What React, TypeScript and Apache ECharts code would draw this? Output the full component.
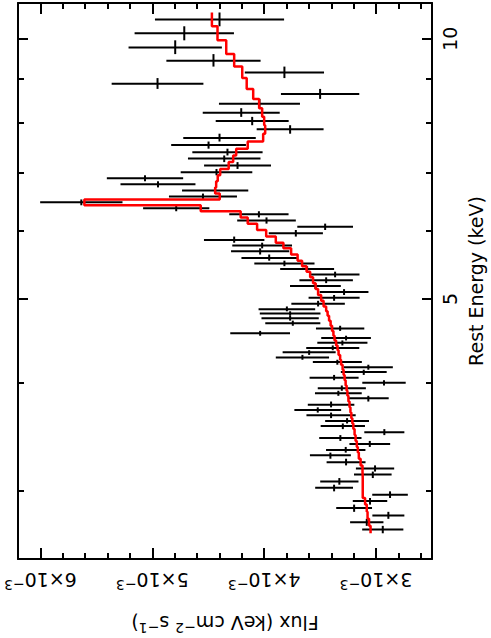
import React, { useEffect, useRef } from 'react';
import * as echarts from 'echarts';

// Rest-frame energy of each spectral bin centre (keV), high to low
const energyKeV = [
  10.53, 10.15, 9.771, 9.431, 9.142, 8.871, 8.629, 8.411, 8.212, 8.031,
  7.855, 7.676, 7.534, 7.389, 7.266, 7.132, 7.006, 6.895, 6.786, 6.673,
  6.567, 6.468, 6.366, 6.265, 6.161, 6.06, 5.956, 5.851, 5.764, 5.678,
  5.577, 5.495, 5.416, 5.336, 5.256, 5.173, 5.091, 5.014, 4.935, 4.865,
  4.81, 4.75, 4.687, 4.622, 4.561, 4.504, 4.448, 4.386, 4.336, 4.278,
  4.225, 4.166, 4.114, 4.052, 3.999, 3.94, 3.888, 3.836, 3.771, 3.719,
  3.667, 3.611, 3.564, 3.504, 3.452, 3.397, 3.343, 3.296, 3.236, 3.181,
  3.131, 3.073, 3.022, 2.966, 2.917, 2.863, 2.807, 2.758, 2.704,
];

// Observed flux (units of 1e-3 keV cm^-2 s^-1)
const fluxE3 = [
  4.399, 4.714, 4.795, 4.453, 3.819, 4.953, 3.5, 4.042, 4.205, 4.107,
  3.768, 4.399, 4.497, 4.328, 4.357, 4.238, 4.426, 5.065, 4.949, 4.438,
  4.547, 5.634, 4.786, 4.047, 3.979, 3.455, 3.717, 4.268, 4.018, 4.036,
  3.955, 3.819, 3.616, 3.366, 3.446, 3.542, 3.286, 3.375, 3.518, 3.797,
  3.768, 3.768, 3.744, 3.321, 4.036, 3.268, 3.301, 3.387, 3.598, 3.658,
  3.346, 3.069, 3.11, 3.375, 2.929, 3.306, 3.337, 3.069, 3.402, 3.521,
  3.402, 3.259, 3.297, 2.926, 3.319, 3.056, 3.271, 3.408, 3.268, 3.009,
  3.029, 3.328, 3.375, 2.875, 3.054, 3.196, 2.89, 3.083, 2.94,
];

// 1-sigma flux error (same units)
const fluxErrE3 = [
  0.577, 0.444, 0.417, 0.421, 0.354, 0.41, 0.35, 0.362, 0.344, 0.326,
  0.299, 0.324, 0.334, 0.314, 0.324, 0.299, 0.32, 0.341, 0.335, 0.296,
  0.304, 0.368, 0.296, 0.265, 0.262, 0.249, 0.242, 0.27, 0.267, 0.26,
  0.248, 0.269, 0.241, 0.218, 0.239, 0.227, 0.218, 0.228, 0.239, 0.253,
  0.271, 0.256, 0.246, 0.216, 0.267, 0.222, 0.224, 0.237, 0.237, 0.238,
  0.219, 0.219, 0.205, 0.219, 0.194, 0.215, 0.209, 0.182, 0.208, 0.209,
  0.22, 0.196, 0.198, 0.179, 0.189, 0.182, 0.176, 0.183, 0.174, 0.171,
  0.168, 0.171, 0.169, 0.159, 0.154, 0.16, 0.143, 0.149, 0.184,
];

// Best-fit model flux per bin (same units)
const modelE3 = [
  4.467, 4.417, 4.339, 4.268, 4.196, 4.156, 4.098, 4.045, 4.018, 4.0,
  3.991, 4.009, 4.147, 4.25, 4.277, 4.317, 4.393, 4.415, 4.429, 4.438,
  4.397, 5.607, 4.567, 4.21, 4.147, 4.063, 3.982, 3.896, 3.828, 3.759,
  3.701, 3.661, 3.621, 3.589, 3.563, 3.54, 3.518, 3.491, 3.469, 3.446,
  3.433, 3.42, 3.406, 3.393, 3.381, 3.371, 3.357, 3.344, 3.335, 3.321,
  3.313, 3.299, 3.29, 3.281, 3.272, 3.263, 3.256, 3.247, 3.237, 3.229,
  3.221, 3.212, 3.203, 3.192, 3.183, 3.172, 3.163, 3.154, 3.138, 3.121,
  3.119, 3.119, 3.119, 3.119, 3.098, 3.083, 3.076, 3.063, 3.049,
];

const fluxMajorTicks = [3, 4, 5, 6];
const fluxMinorTicks = [2.6, 2.8, 3.2, 3.4, 3.6, 3.8, 4.2, 4.4, 4.6, 4.8, 5.2, 5.4, 5.6, 5.8];
const energyMajorTicks = [5, 10];
const energyMinorTicks = [3, 4, 6, 7, 8, 9];

const FONT = 'DejaVu Sans';

function binEdges(c: number[]): number[] {
  const n = c.length;
  const e: number[] = [c[0] * Math.sqrt(c[0] / c[1])];
  for (let i = 0; i < n - 1; i++) e.push(Math.sqrt(c[i] * c[i + 1]));
  e.push(c[n - 1] * Math.sqrt(c[n - 1] / c[n - 2]));
  return e;
}

export default function App() {
  const ref = useRef<HTMLDivElement>(null);
  useEffect(() => {
    if (!ref.current) return;
    const chart = echarts.init(ref.current, null, { renderer: 'svg' });
    const edges = binEdges(energyKeV);
    const errData = energyKeV.map((e, i) => [fluxE3[i], e, fluxErrE3[i], edges[i + 1], edges[i]]);
    const modelLine: number[][] = [];
    modelE3.forEach((m, i) => {
      modelLine.push([m, edges[i]]);
      modelLine.push([m, edges[i + 1]]);
    });

    const lineCol = '#000';
    const rich = {
      m: { fontSize: 19, fontFamily: FONT, color: '#000', lineHeight: 24 },
      s: { fontSize: 14, fontFamily: FONT, color: '#000', lineHeight: 15, verticalAlign: 'top' },
    };
    const xBase: any = {
      type: 'value', min: 2.5, max: 6.2, inverse: true, splitLine: { show: false },
    };
    const yBase: any = {
      type: 'log', logBase: 10, min: 2.5, max: 11, splitLine: { show: false },
    };
    const tick = (vals: number[], len: number) => ({
      show: true, inside: true, length: len, customValues: vals,
      lineStyle: { color: lineCol, width: 2 },
    });
    const axLine = (show: boolean) => ({ show, onZero: false, lineStyle: { color: lineCol, width: 2 } });

    chart.setOption({
      animation: false,
      backgroundColor: '#fff',
      grid: { left: 18, right: 59, top: 3, bottom: 79, outerBoundsMode: 'none', containLabel: false },
      xAxis: [
        {
          ...xBase, position: 'bottom', axisLine: axLine(true), axisTick: tick(fluxMajorTicks, 11),
          axisLabel: {
            show: true, customValues: fluxMajorTicks, rotate: 180, margin: 9,
            formatter: (v: number) => `{m|${Math.round(v)}×10}{s|−3}`, rich,
          },
          name: '{m|Flux (keV cm}{s|−2}{m| s}{s|−1}{m|)}',
          nameLocation: 'middle', nameRotate: 180, nameGap: 52,
          nameTextStyle: { rich },
        },
        { ...xBase, position: 'bottom', axisLine: axLine(false), axisTick: tick(fluxMinorTicks, 6), axisLabel: { show: false } },
        { ...xBase, position: 'top', axisLine: axLine(true), axisTick: tick(fluxMajorTicks, 11), axisLabel: { show: false } },
        { ...xBase, position: 'top', axisLine: axLine(false), axisTick: tick(fluxMinorTicks, 6), axisLabel: { show: false } },
      ],
      yAxis: [
        {
          ...yBase, position: 'right', axisLine: axLine(true), axisTick: tick(energyMajorTicks, 10),
          axisLabel: {
            show: true, customValues: energyMajorTicks, rotate: 90, margin: 8,
            formatter: (v: number) => String(Math.round(v)),
            fontSize: 19, fontFamily: FONT, color: '#000',
          },
          name: 'Rest Energy (keV)', nameLocation: 'middle', nameRotate: 90, nameGap: 34,
          nameTextStyle: { fontSize: 19, fontFamily: FONT, color: '#000' },
        },
        { ...yBase, position: 'right', axisLine: axLine(false), axisTick: tick(energyMinorTicks, 6), axisLabel: { show: false } },
        { ...yBase, position: 'left', axisLine: axLine(true), axisTick: tick(energyMajorTicks, 10), axisLabel: { show: false } },
        { ...yBase, position: 'left', axisLine: axLine(false), axisTick: tick(energyMinorTicks, 6), axisLabel: { show: false } },
      ],
      series: [
        {
          type: 'custom',
          xAxisIndex: 0, yAxisIndex: 0,
          data: errData,
          encode: { x: 0, y: 1 },
          z: 2,
          renderItem: (_p: any, api: any) => {
            const f = api.value(0), e = api.value(1), err = api.value(2);
            const lo = api.value(3), hi = api.value(4);
            const a = api.coord([f - err, e]);
            const b = api.coord([f + err, e]);
            const c = api.coord([f, lo]);
            const d = api.coord([f, hi]);
            const st = { stroke: '#000', lineWidth: 2 };
            return {
              type: 'group',
              children: [
                { type: 'line', shape: { x1: a[0], y1: a[1], x2: b[0], y2: b[1] }, style: st },
                { type: 'line', shape: { x1: c[0], y1: c[1], x2: d[0], y2: d[1] }, style: st },
              ],
            };
          },
        },
        {
          type: 'line',
          xAxisIndex: 0, yAxisIndex: 0,
          data: modelLine,
          symbol: 'none',
          z: 3,
          lineStyle: { color: '#ff0000', width: 2.5 },
          itemStyle: { color: '#ff0000' },
        },
      ],
    });
    return () => chart.dispose();
  }, []);
  return <div ref={ref} style={{ position: 'fixed', left: 0, top: 0, width: 491, height: 638 }} />;
}
